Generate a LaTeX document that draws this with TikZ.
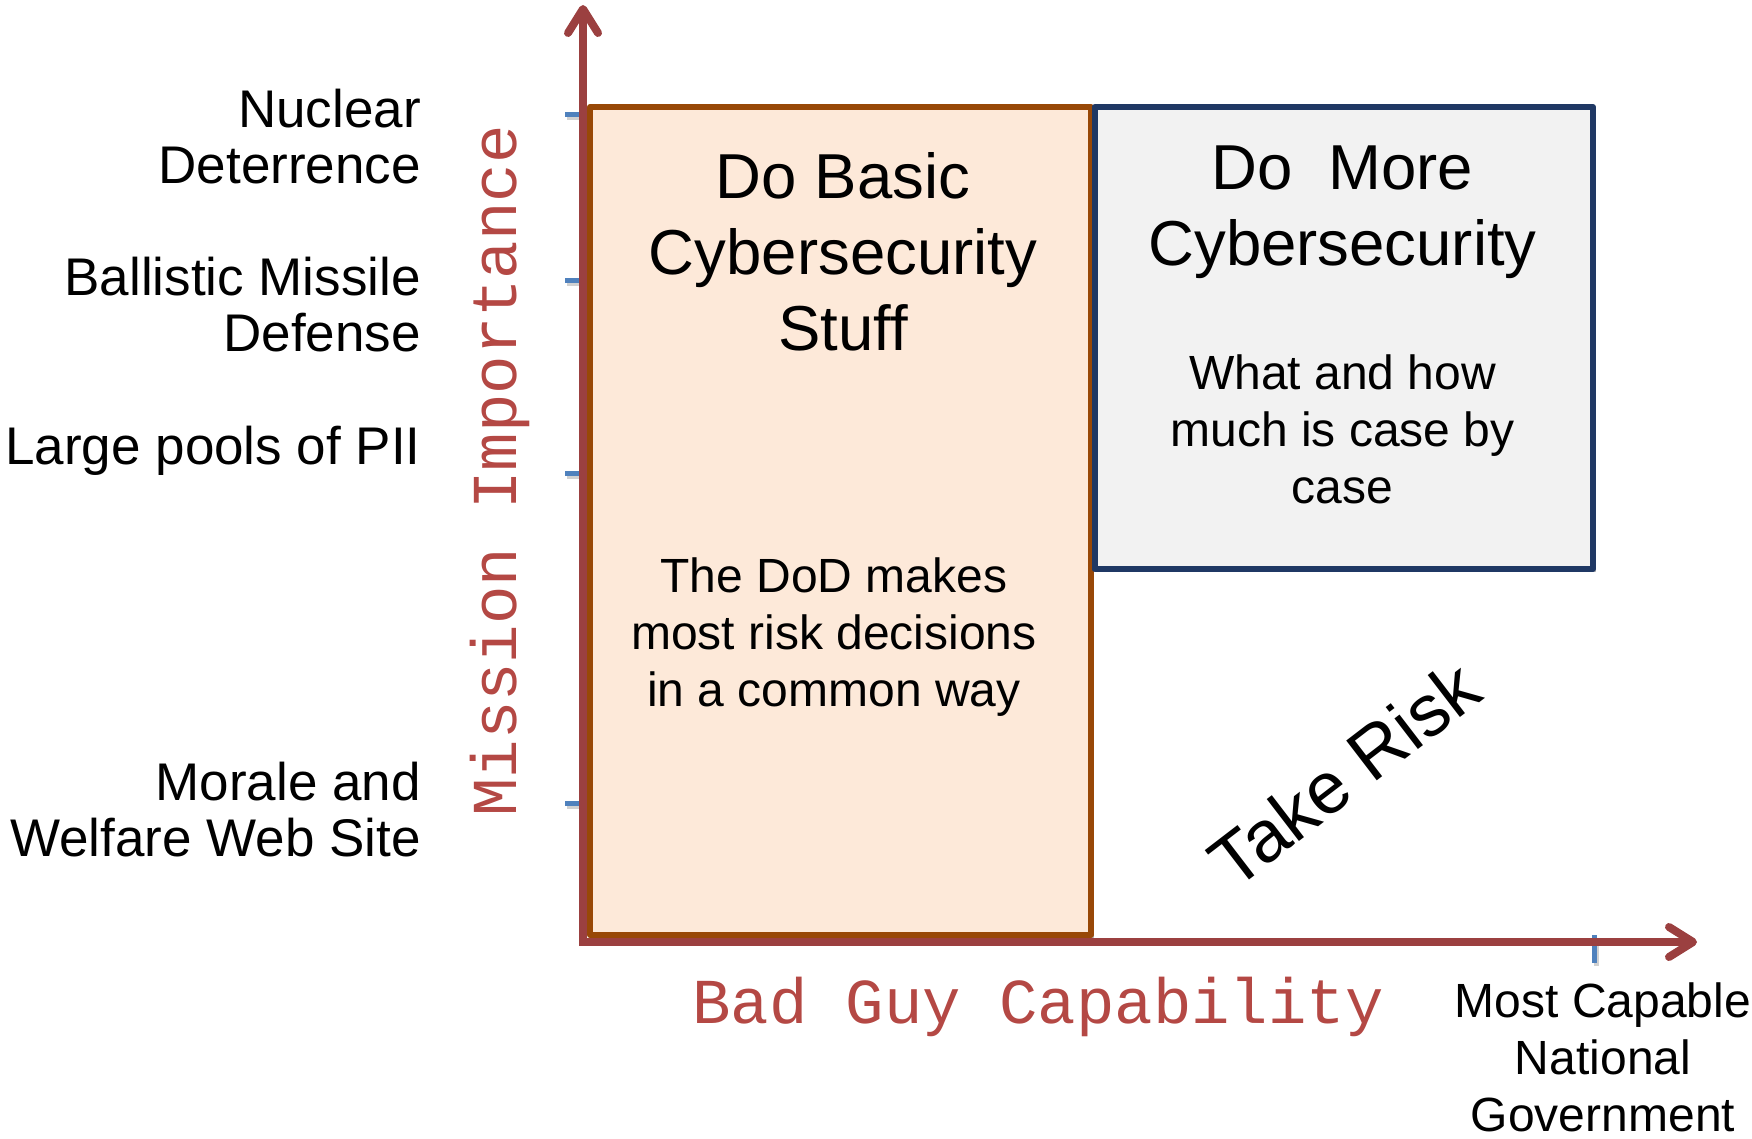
\documentclass[tikz,border=0pt]{standalone}
\usepackage{fontspec}
\setmainfont{Liberation Sans}
\setmonofont{Liberation Mono}
\usetikzlibrary{arrows.meta,shadows}
\definecolor{axisred}{RGB}{155,64,64}
\definecolor{labelred}{RGB}{180,72,68}
\definecolor{peach}{RGB}{253,233,217}
\definecolor{brownline}{RGB}{152,72,7}
\definecolor{greyfill}{RGB}{242,242,242}
\definecolor{navyline}{RGB}{31,56,100}
\definecolor{tickblue}{RGB}{79,129,189}
\tikzset{
  lefttext/.style={font=\fontsize{53}{56}\selectfont, align=right, anchor=base east, inner sep=0pt},
  titletext/.style={font=\fontsize{63.5}{76}\selectfont, align=center, anchor=base, inner sep=0pt},
  bodytext/.style={font=\fontsize{48}{57}\selectfont, align=center, anchor=base, inner sep=0pt},
  axislabel/.style={font=\ttfamily\fontsize{64}{64}\selectfont, text=labelred, anchor=base, inner sep=0pt},
  tickmark/.style={draw=tickblue, line width=5pt},
  tickshadow/.style={draw=black, opacity=0.18, line width=5pt},
  axisline/.style={draw=axisred, line width=8pt, line join=miter,
    {Straight Barb[length=24pt,width=30pt,round]}-{Straight Barb[length=24pt,width=30pt,round]}},
  boxshadow/.style={drop shadow={shadow xshift=3pt, shadow yshift=-3pt, opacity=0.25, fill=black}},
  basicbox/.style={draw=brownline, fill=peach, line width=6pt, line join=round, inner sep=0pt, boxshadow},
  morebox/.style={draw=navyline, fill=greyfill, line width=6pt, line join=round, inner sep=0pt, boxshadow},
}
\begin{document}
\begin{tikzpicture}[x=1pt,y=-1pt]
\useasboundingbox (0,0) rectangle (1752,1139);
% coordinates
\coordinate (ytip) at (583,5);
\coordinate (origin) at (583,942);
\coordinate (xtip) at (1697,942);
% ticks
\foreach \yy/\nm in {115/t1,281/t2,473/t3,803/t4}{
  \coordinate (\nm a) at (565,\yy);
  \coordinate (\nm b) at (585,\yy);
  \draw[tickshadow] ([shift={(2,3)}]\nm a) -- ([shift={(2,3)}]\nm b);
  \draw[tickmark] (\nm a) -- (\nm b);
}
\coordinate (xta) at (1594,935);
\coordinate (xtb) at (1594,963);
\draw[tickshadow] ([shift={(2,3)}]xta) -- ([shift={(2,3)}]xtb);
\draw[tickmark] (xta) -- (xtb);
% boxes
\node[basicbox, minimum width=501pt, minimum height=828pt] (basic) at (840.5,521) {};
\node[morebox, minimum width=498.5pt, minimum height=462pt] (more) at (1343.75,338) {};
% axes
\draw[axisline] (ytip) -- (origin) -- (xtip);
% left labels (anchor = baseline of last line)
\node[lefttext] (nuc) at (421,184) {Nuclear\\Deterrence};
\node[lefttext] (bmd) at (421,352) {Ballistic Missile\\Defense};
\node[lefttext] (pii) at (421,464) {Large pools of PII};
\node[lefttext] (mwr) at (421,856) {Morale and\\Welfare Web Site};
% box texts
\node[titletext] (basictitle) at (843,350) {Do Basic\\Cybersecurity\\Stuff};
\node[bodytext] (basicbody) at (834,706) {The DoD makes\\most risk decisions\\in a common way};
\node[titletext] (moretitle) at (1342.5,266) {Do~~More\\Cybersecurity};
\node[bodytext] (morebody) at (1342.5,503) {What and how\\much is case by\\case};
% take risk
\node[font=\fontsize{73}{73}\selectfont, rotate=37.5, inner sep=0pt] (risk) at (1344,774) {Take Risk};
% axis labels
\node[axislabel] (xlabel) at (1038,1023) {Bad Guy Capability};
\node[axislabel, rotate=90] (ylabel) at (516,471) {Mission Importance};
\node[bodytext] (mostcap) at (1603,1131) {Most Capable\\National\\Government};
\end{tikzpicture}
\end{document}
